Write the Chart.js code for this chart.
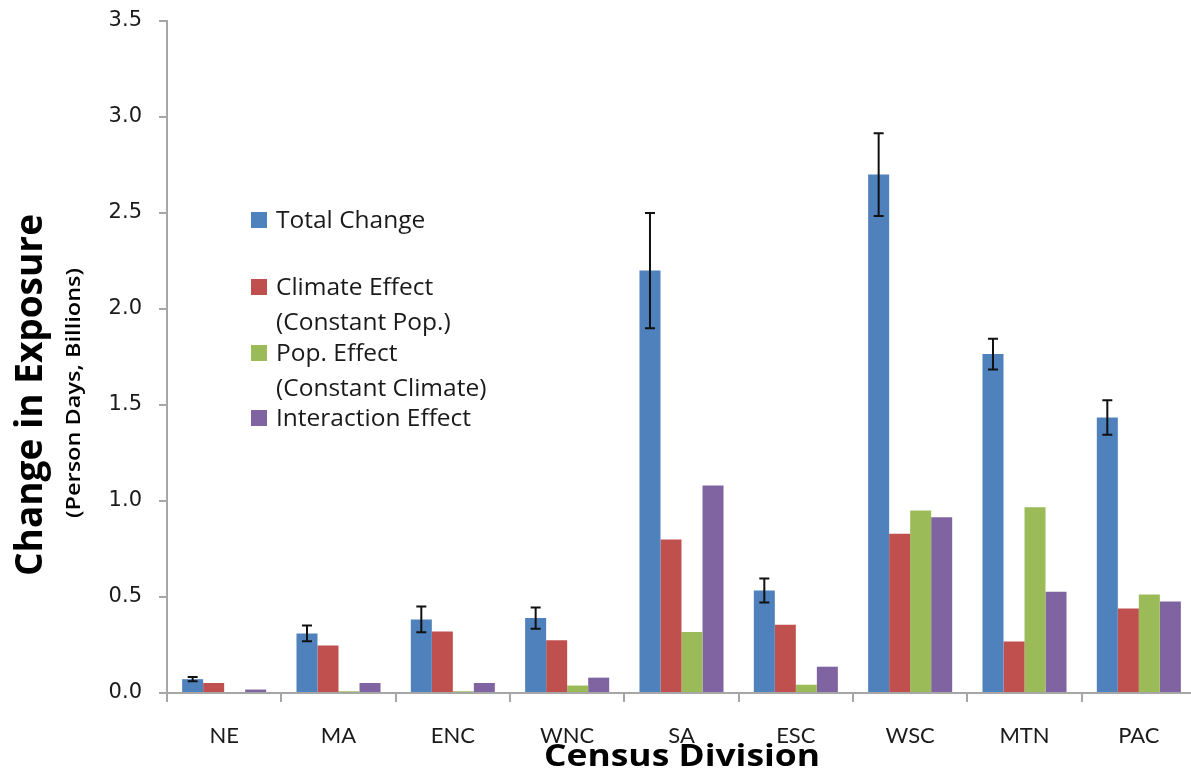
<!DOCTYPE html>
<html>
<head>
<meta charset="utf-8">
<title>Change in Exposure by Census Division</title>
<script src="https://cdn.jsdelivr.net/npm/chart.js@4.4.0/dist/chart.umd.min.js"></script>
<style>
  html, body { margin: 0; padding: 0; background: #ffffff; overflow: hidden; }
  #wrap { width: 1197px; height: 776px; }
</style>
</head>
<body>
<div id="wrap"><canvas id="chart" width="1197" height="776"></canvas></div>
<script>
// Census divisions along the x axis
const divisions = ['NE', 'MA', 'ENC', 'WNC', 'SA', 'ESC', 'WSC', 'MTN', 'PAC'];

// Change in exposure (person days, billions)
const totalChange       = [0.072, 0.310, 0.383, 0.390, 2.200, 0.534, 2.700, 1.765, 1.435];
const totalChangeError  = [0.011, 0.041, 0.067, 0.055, 0.300, 0.062, 0.216, 0.080, 0.090];
const climateEffect     = [0.052, 0.247, 0.320, 0.275, 0.800, 0.356, 0.829, 0.268, 0.440];
const popEffect         = [0.000, 0.009, 0.009, 0.039, 0.318, 0.043, 0.951, 0.967, 0.513];
const interactionEffect = [0.018, 0.052, 0.052, 0.080, 1.081, 0.137, 0.915, 0.527, 0.476];

// Value axis ticks
const yTicks = [0, 0.5, 1.0, 1.5, 2.0, 2.5, 3.0, 3.5];

// Legend text, one list of lines per series
const legendLines = [
  ['Total Change'],
  ['Climate Effect', '(Constant Pop.)'],
  ['Pop. Effect', '(Constant Climate)'],
  ['Interaction Effect']
];

const LABEL_FONT = 'Lato, "Open Sans", sans-serif';
const TEXT_FONT = '"Open Sans", Lato, sans-serif';

// Whiskers on the Total Change bars
const errorBars = {
  id: 'errorBars',
  afterDatasetsDraw(chart) {
    const meta = chart.getDatasetMeta(0);
    const y = chart.scales.y;
    const ctx = chart.ctx;
    ctx.save();
    ctx.strokeStyle = '#111111';
    ctx.lineWidth = 2;
    meta.data.forEach((bar, i) => {
      const v = totalChange[i];
      const e = totalChangeError[i];
      const top = y.getPixelForValue(v + e);
      const bot = y.getPixelForValue(v - e);
      ctx.beginPath();
      ctx.moveTo(bar.x, top); ctx.lineTo(bar.x, bot);
      ctx.moveTo(bar.x - 5, top); ctx.lineTo(bar.x + 5, top);
      ctx.moveTo(bar.x - 5, bot); ctx.lineTo(bar.x + 5, bot);
      ctx.stroke();
    });
    ctx.restore();
  }
};

// Legend inside the plot area, with wrapped labels
const insetLegend = {
  id: 'insetLegend',
  afterDraw(chart) {
    const ctx = chart.ctx;
    const rowY = [[220], [287, 322], [353, 388], [418]];
    ctx.save();
    ctx.font = '24.5px ' + TEXT_FONT;
    ctx.textBaseline = 'middle';
    chart.data.datasets.forEach((ds, i) => {
      ctx.fillStyle = ds.backgroundColor;
      ctx.fillRect(251, rowY[i][0] - 8, 16, 16);
      ctx.fillStyle = '#1a1a1a';
      legendLines[i].forEach((line, j) => {
        ctx.fillText(line, 276, rowY[i][j] + 1);
      });
    });
    ctx.restore();
  }
};

// Text drawn centred on (cx, cy), stretched to a set length
function fittedText(ctx, text, font, cx, cy, length, angle) {
  ctx.save();
  ctx.font = font;
  ctx.textAlign = 'center';
  ctx.textBaseline = 'middle';
  ctx.translate(cx, cy);
  ctx.rotate(angle);
  const w = ctx.measureText(text).width;
  ctx.scale(length / w, 1);
  ctx.fillText(text, 0, 0);
  ctx.restore();
}

// Axis titles
const axisTitles = {
  id: 'axisTitles',
  afterDraw(chart) {
    const ctx = chart.ctx;
    ctx.save();
    ctx.fillStyle = '#000000';
    fittedText(ctx, 'Change in Exposure', 'bold 37px ' + TEXT_FONT, 31, 395, 362, -Math.PI / 2);
    fittedText(ctx, '(Person Days, Billions)', '600 20px ' + TEXT_FONT, 74, 393, 250, -Math.PI / 2);
    fittedText(ctx, 'Census Division', 'bold 31px ' + TEXT_FONT, 682, 757, 276, 0);
    ctx.restore();
  }
};

new Chart(document.getElementById('chart'), {
  type: 'bar',
  data: {
    labels: divisions,
    datasets: [
      { label: 'Total Change', data: totalChange, backgroundColor: '#4F81BD' },
      { label: 'Climate Effect (Constant Pop.)', data: climateEffect, backgroundColor: '#C0504D' },
      { label: 'Pop. Effect (Constant Climate)', data: popEffect, backgroundColor: '#9BBB59' },
      { label: 'Interaction Effect', data: interactionEffect, backgroundColor: '#8064A2' }
    ]
  },
  options: {
    responsive: false,
    animation: false,
    layout: { padding: { top: 21, right: 1, left: 0, bottom: 0 } },
    datasets: { bar: { categoryPercentage: 0.735, barPercentage: 1.0, borderWidth: 0 } },
    plugins: {
      legend: { display: false },
      tooltip: { enabled: false }
    },
    scales: {
      x: {
        offset: true,
        grid: { display: true, offset: true, drawOnChartArea: false, drawTicks: true, tickLength: 9, color: '#a6a6a6', lineWidth: 2 },
        border: { display: true, color: '#a6a6a6', width: 2 },
        ticks: { color: '#1a1a1a', font: { family: LABEL_FONT, size: 22 }, padding: 21, maxRotation: 0 },
        afterFit(scale) { scale.height = 83; scale.paddingLeft = 0; scale.paddingRight = 0; }
      },
      y: {
        min: 0,
        max: 3.5,
        afterBuildTicks(scale) { scale.ticks = yTicks.map(v => ({ value: v })); },
        grid: { display: true, drawOnChartArea: false, drawTicks: true, tickLength: 8, color: '#a6a6a6', lineWidth: 2 },
        border: { display: true, color: '#a6a6a6', width: 2 },
        ticks: {
          color: '#1a1a1a',
          font: { family: '"DejaVu Sans", sans-serif', size: 21 },
          padding: 17,
          callback: v => Number(v).toFixed(1)
        },
        afterFit(scale) { scale.width = 167; scale.paddingTop = 0; scale.paddingBottom = 0; }
      }
    }
  },
  plugins: [errorBars, insetLegend, axisTitles]
});
</script>
</body>
</html>
